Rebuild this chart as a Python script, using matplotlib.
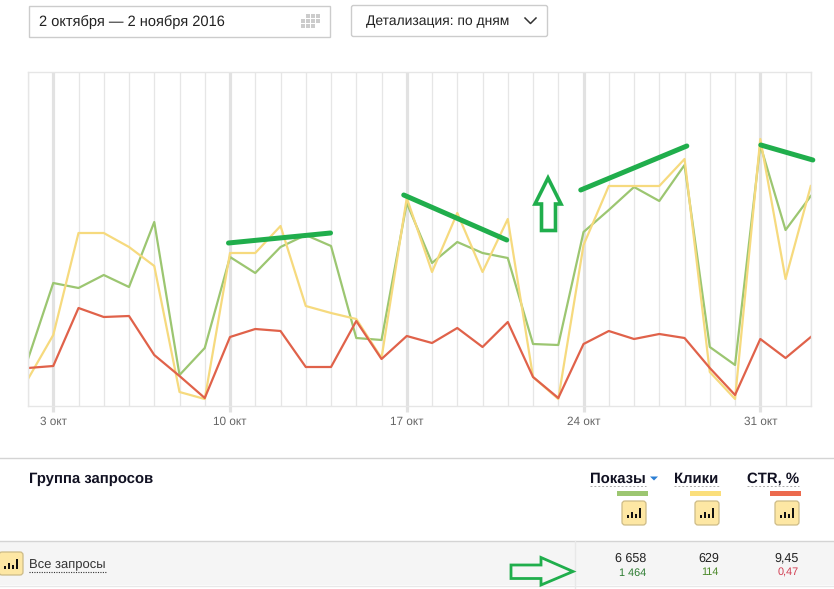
import matplotlib
matplotlib.use("Agg")
import matplotlib.pyplot as plt
from matplotlib.patches import Rectangle, FancyBboxPatch, Polygon

plt.rcParams['font.family'] = ['Liberation Sans', 'DejaVu Sans']
plt.rcParams['text.hinting'] = 'no_hinting'

W, H = 834, 589

# Data (height above the chart baseline)
days = list(range(32))
shows = [47, 123, 118, 131, 119, 184, 31, 58, 149, 133, 159, 171, 160, 68, 66, 203,
         143, 164, 153, 148, 62, 61, 174, 196, 219, 205, 241, 59, 41, 261, 176, 210]
clicks = [27, 71, 173, 173, 159, 140, 14, 7, 153, 153, 180, 100, 93, 87, 48, 208,
          134, 193, 134, 187, 29, 7, 161, 220, 220, 220, 247, 34, 7, 267, 127, 220]
ctr = [38, 40, 98, 89, 90, 51, 30, 8, 69, 77, 75, 39, 39, 85, 47, 70,
       63, 78, 59, 84, 29, 8, 62, 75, 67, 72, 68, 38, 11, 67, 48, 69]
week_days = [1, 8, 15, 22, 29]
week_labels = ['3 окт', '10 окт', '17 окт', '24 окт', '31 окт']
trend_x = [[7.94, 11.98], [14.88, 18.96], [21.89, 26.09], [29.02, 31.08]]
trend_y = [[163, 173], [211, 166], [216, 260], [261, 246]]
columns = ['Показы', 'Клики', 'CTR, %']
totals = ['6 658', '629', '9,45']
deltas = ['1 464', '114', '0,47']

GREEN, YELLOW, RED = '#9cc671', '#f6da7e', '#e0624a'
MARK = '#20ae4c'
GRID = '#e6e6e6'

fig = plt.figure(figsize=(W / 100, H / 100), dpi=100, facecolor='white')

# Chart
ax = fig.add_axes([28.0 / W, 1 - 406.0 / H, (810.8 - 28.0) / W, (406.0 - 72) / H])
ax.set_xlim(0, 31)
ax.set_ylim(0, 334)
ax.set_xticks(days, minor=True)
ax.set_xticks(week_days)
ax.set_xticklabels(week_labels, fontsize=8.5, color='#666666')
ax.set_yticks([])
ax.tick_params(axis='x', which='major', length=4, width=2.3, color='#e2e2e2', pad=3.5)
ax.tick_params(axis='x', which='minor', length=0)
ax.grid(True, axis='x', which='minor', color=GRID, lw=0.9)
ax.grid(True, axis='x', which='major', color='#e2e2e2', lw=2.3)
ax.set_axisbelow(True)
for s in ax.spines.values():
    s.set_color(GRID)
    s.set_linewidth(1)
for ser, col in ((shows, GREEN), (clicks, YELLOW), (ctr, RED)):
    ax.plot(days, ser, color=col, lw=1.6, solid_joinstyle='round')
for tx, ty in zip(trend_x, trend_y):
    ax.plot(tx, ty, color=MARK, lw=3.6, solid_capstyle='round', clip_on=False, zorder=5)

# Interface overlay in pixel units
ui = fig.add_axes([0, 0, 1, 1], zorder=-1)
ui.set_xlim(0, W)
ui.set_ylim(H, 0)
ui.axis('off')
top = fig.add_axes([0, 0, 1, 1], zorder=5)
top.set_xlim(0, W)
top.set_ylim(H, 0)
top.axis('off')

ui.add_patch(Rectangle((29.5, 5.5), 301, 31, fc='white', ec='#cccccc', lw=1))
ui.text(39, 20.5, '2 октября — 2 ноября 2016', fontsize=10.5, color='#222222', va='center_baseline')
for r, row in enumerate([(1, 2, 3), (0, 1, 2, 3), (0, 1, 2)]):
    for c in row:
        ui.add_patch(Rectangle((301 + c * 5, 14 + r * 5), 4, 4, fc='#cccccc', ec='none'))
ui.add_patch(FancyBboxPatch((351.5 + 2, 5.5 + 2), 192, 27, boxstyle='round,pad=2,rounding_size=2',
                            fc='white', ec='#cccccc', lw=1))
ui.text(366, 20.5, 'Детализация: по дням', fontsize=10, color='#222222', va='center_baseline')
ui.plot([525, 530.5, 536], [18, 23.5, 18], color='#333333', lw=1.1)

# Table
ui.add_patch(Rectangle((0, 541), W, 44, fc='#f5f5f5', ec='none'))
ui.plot([0, W], [457.5, 457.5], color='#d4d4d4', lw=1)
ui.plot([0, W], [541, 541], color='#d4d4d4', lw=1)
ui.plot([0, W], [585.5, 585.5], color='#e8e8e8', lw=1)
ui.plot([575.5, 575.5], [541, 589], color='#e8e8e8', lw=1)
ui.text(29.5, 477, 'Группа запросов', fontsize=10.7, fontweight='bold', color='#111122', va='center_baseline')


def icon(x, y, w=24, h=24):
    ui.add_patch(FancyBboxPatch((x + 2, y + 2), w - 4, h - 4, boxstyle='round,pad=2,rounding_size=3',
                                fc='#fde7a4', ec='#cdbb86', lw=0.9))
    cx = x + w / 2
    for dx, bh in zip((-6, -2, 2, 6), (3, 6, 4, 10)):
        ui.add_patch(Rectangle((cx + dx - 1.2, y + 16.5 - bh), 2.4, bh, fc='#111111', ec='none'))


lefts = [590, 674, 747]
rights = [646, 719, 799]
bar_left = [617, 690, 770]
icon_left = [622, 695, 775]
for name, l, r, bl, il, col, tot, dl, dc in zip(columns, lefts, rights, bar_left, icon_left,
                                                (GREEN, '#fbdf7c', '#ec6a4e'), totals, deltas,
                                                ('#2e7d32', '#4c8a2a', '#d23c50')):
    ui.text(l, 477, name, fontsize=10.7, fontweight='bold', color='#111122', va='center_baseline')
    ui.plot([l, r], [485.5, 485.5], color='#aaaaaa', lw=0.7, ls=(0, (2, 2)))
    ui.add_patch(Rectangle((bl, 491), 31, 5, fc=col, ec='none'))
    icon(il, 501)
    ui.text(r, 557, tot, fontsize=9, color='#222222', ha='right', va='center_baseline')
    ui.text(r, 571.5, dl, fontsize=7.8, color=dc, ha='right', va='center_baseline')
ui.add_patch(Polygon([(650, 476.5), (658, 476.5), (654, 480.5)], fc='#2b7fd4', ec='none'))

icon(-1, 552, 24, 23)
ui.text(29.5, 564, 'Все запросы', fontsize=9.4, color='#333333', va='center_baseline')
ui.plot([29.5, 106], [571.5, 571.5], color='#333333', lw=0.8, ls=(0, (1, 1.2)))

# Hand-drawn arrows
top.add_patch(Polygon([(511, 565), (541, 565), (541, 557.5), (573, 571.5), (541, 585), (541, 578.5), (511, 578.5)],
                      closed=True, fc='none', ec=MARK, lw=2))
top.add_patch(Polygon([(548, 178), (535, 204), (541.5, 204), (541.5, 230.5), (555.5, 230.5), (555.5, 204), (561, 204)],
                      closed=True, fc='none', ec=MARK, lw=2.6))

fig.savefig('out.png', dpi=100, facecolor='white')
